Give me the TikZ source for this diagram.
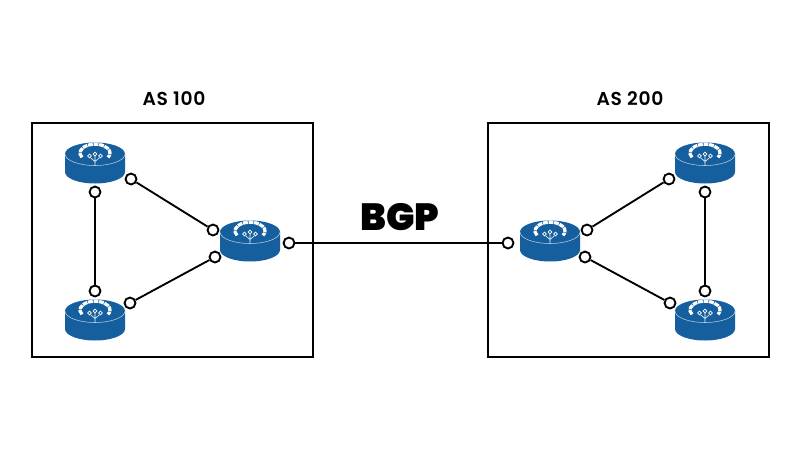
\documentclass[tikz,border=0pt]{standalone}
\usepackage{fontspec}
\setmainfont{Poppins}
\newfontfamily\labelfont[LetterSpace=3.5]{Poppins SemiBold}
\newfontfamily\bigfont{Poppins Black}
\definecolor{routerblue}{HTML}{165F9F}
\tikzset{
  x=0.75pt,y=-0.75pt,
  asbox/.style={draw=black,line width=1.4pt,fill=none},
  port/.style={circle,draw=black,fill=white,line width=1.4pt,minimum size=8.2pt,inner sep=0pt},
  link/.style={draw=black,line width=1.4pt},
  aslabel/.style={font=\labelfont\fontsize{14pt}{16pt}\selectfont,text=black,inner sep=0pt},
  bgplabel/.style={font=\bigfont\fontsize{28.4pt}{31pt}\selectfont,text=black,inner sep=0pt},
  router/.pic={
    \path[fill=routerblue] (-30,-9) -- (-30,9) arc[x radius=30,y radius=11.5,start angle=180,end angle=0] -- (30,-9) arc[x radius=30,y radius=11.5,start angle=0,end angle=-180] -- cycle;
    \draw[white!70!routerblue,line width=0.4pt] (-30,-9) arc[x radius=30,y radius=11.5,start angle=180,end angle=0];
    \begin{scope}[white]
      \draw[line width=2.4pt,dash pattern=on 3.6pt off 0.6pt] (0,-10) ++(150:15 and 8.8) arc[x radius=15,y radius=8.8,start angle=150,end angle=390];
      \draw[line width=0.5pt] (0,-9) circle[radius=1.8];
      \draw[line width=0.5pt] (-5.5,-7) circle[radius=1.8];
      \draw[line width=0.5pt] (5.5,-7) circle[radius=1.8];
      \draw[line width=0.4pt] (0,-7.2) -- (0,1.5) (-4.5,-5.3) -- (0,-1.5) -- (4.5,-5.3);
    \end{scope}
  }
}
\begin{document}
\begin{tikzpicture}
\useasboundingbox (0,0) rectangle (800,450);
\path[fill=white] (0,0) rectangle (800,450);
\draw[asbox] (32,123) rectangle (313,357);
\draw[asbox] (488,123) rectangle (769,357);
\node[aslabel] (as100) at (174,98.5) {AS 100};
\node[aslabel] (as200) at (630,98.5) {AS 200};
\node[bgplabel] (bgp) at (400,217.5) {BGP};
\pic at (95,163) {router};
\pic at (95,320) {router};
\pic at (250,241) {router};
\pic at (550,241) {router};
\pic at (705,163) {router};
\pic at (705,320) {router};
\node[port] (a1) at (131,179) {};
\node[port] (a2) at (213,230) {};
\node[port] (a3) at (95,192) {};
\node[port] (a4) at (95,291) {};
\node[port] (a5) at (130,303) {};
\node[port] (a6) at (215,257) {};
\node[port] (e1) at (289,243) {};
\node[port] (e2) at (508,243) {};
\node[port] (b1) at (587,230) {};
\node[port] (b2) at (669,179) {};
\node[port] (b3) at (585,257) {};
\node[port] (b4) at (670,303) {};
\node[port] (b5) at (705,192) {};
\node[port] (b6) at (705,291) {};
\draw[link] (a1) -- (a2);
\draw[link] (a3) -- (a4);
\draw[link] (a5) -- (a6);
\draw[link] (e1) -- (e2);
\draw[link] (b1) -- (b2);
\draw[link] (b3) -- (b4);
\draw[link] (b5) -- (b6);
\end{tikzpicture}
\end{document}
